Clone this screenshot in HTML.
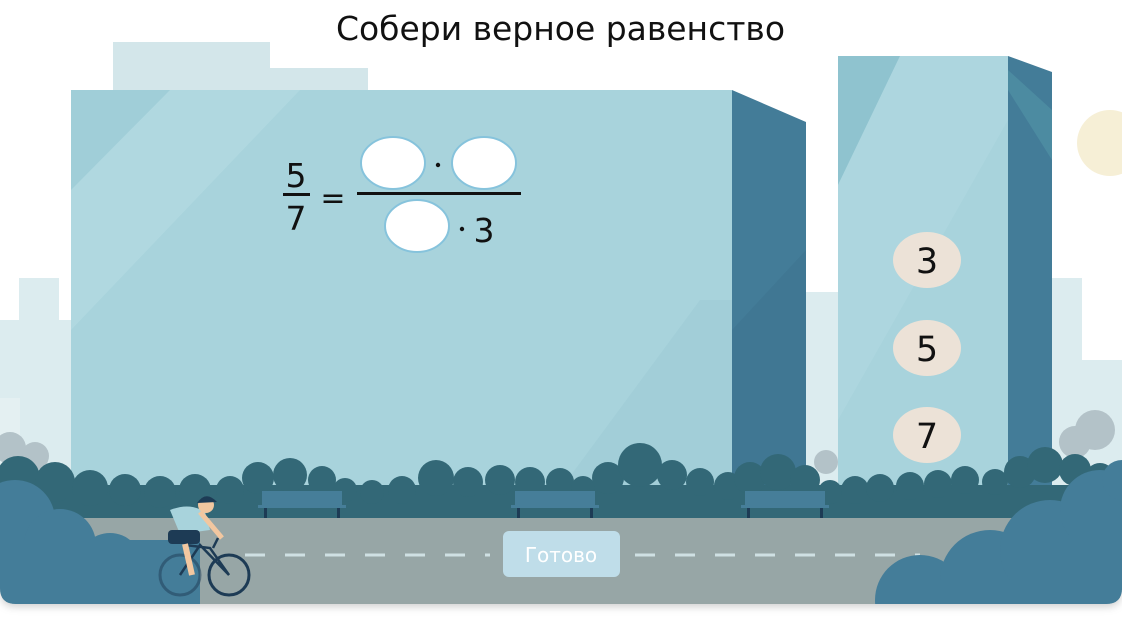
<!DOCTYPE html>
<html><head><meta charset="utf-8"><style>
html,body{margin:0;padding:0;background:#fff;width:1122px;height:634px;overflow:hidden}
svg{display:block}
text{font-family:"DejaVu Sans","Liberation Sans",sans-serif}
</style></head><body>
<svg width="1122" height="634" viewBox="0 0 1122 634" xmlns="http://www.w3.org/2000/svg">
<defs>
<clipPath id="card"><path d="M0 0 H1122 V588 Q1122 604 1106 604 H16 Q0 604 0 588 Z"/></clipPath>
<filter id="sh" x="-5%" y="-5%" width="110%" height="115%"><feDropShadow dx="0" dy="3" stdDeviation="4" flood-color="#000" flood-opacity="0.18"/></filter>
</defs>
<path d="M0 0 H1122 V588 Q1122 604 1106 604 H16 Q0 604 0 588 Z" fill="#fff" filter="url(#sh)"/>
<g clip-path="url(#card)">
<rect x="113" y="42" width="157" height="60" fill="#d3e6ea"/>
<rect x="270" y="68" width="98" height="40" fill="#d3e6ea"/>
<rect x="19" y="278" width="40" height="220" fill="#dcecef"/>
<rect x="0" y="320" width="72" height="180" fill="#dcecef"/>
<rect x="0" y="398" width="20" height="100" fill="#e4f0f2"/>
<rect x="806" y="292" width="32" height="200" fill="#dcecef"/>
<rect x="1052" y="278" width="30" height="220" fill="#dcecef"/>
<rect x="1080" y="360" width="42" height="140" fill="#dcecef"/>
<circle cx="1110" cy="143" r="33" fill="#f6efd6"/>
<rect x="71" y="90" width="661" height="400" fill="#a8d3dc"/>
<polygon points="71,90 300,90 71,330" fill="#b2d9e1" opacity="0.8"/>
<polygon points="71,90 170,90 71,190" fill="#9acad4" opacity="0.7"/>
<polygon points="700,300 732,300 732,490 560,490" fill="#9ecbd5" opacity="0.6"/>
<polygon points="732,90 806,122 806,490 732,490" fill="#437c98"/>
<polygon points="732,330 806,250 806,490 732,490" fill="#3f7590" opacity="0.6"/>
<rect x="838" y="56" width="170" height="440" fill="#a8d3dc"/>
<polygon points="838,56 900,56 838,185" fill="#8fc3cf"/>
<polygon points="900,56 1008,56 1008,120 838,420 838,185" fill="#b1d9e1" opacity="0.6"/>
<polygon points="1008,56 1052,72 1052,496 1008,496" fill="#437c98"/>
<polygon points="1008,90 1052,160 1052,110 1008,70" fill="#4c8ba1"/>
<ellipse cx="927" cy="260" rx="34" ry="28" fill="#ece2d7"/>
<ellipse cx="927" cy="348" rx="34" ry="28" fill="#ece2d7"/>
<ellipse cx="927" cy="435" rx="34" ry="28" fill="#ece2d7"/>
<text x="927" y="273" font-size="35" text-anchor="middle" fill="#111">3</text>
<text x="927" y="361" font-size="35" text-anchor="middle" fill="#111">5</text>
<text x="927" y="448" font-size="35" text-anchor="middle" fill="#111">7</text>
<g fill="#b3c2c8">
<circle cx="10" cy="448" r="16"/><circle cx="35" cy="456" r="14"/>
<circle cx="826" cy="462" r="12"/><circle cx="1095" cy="430" r="20"/><circle cx="1075" cy="442" r="16"/>
</g>
<g fill="#336877">
<rect x="0" y="485" width="1122" height="40"/>
<circle cx="18" cy="478" r="22"/><circle cx="55" cy="482" r="20"/><circle cx="90" cy="488" r="18"/>
<circle cx="125" cy="490" r="16"/><circle cx="160" cy="492" r="16"/><circle cx="195" cy="490" r="16"/>
<circle cx="230" cy="490" r="14"/><circle cx="258" cy="478" r="16"/><circle cx="290" cy="475" r="17"/>
<circle cx="322" cy="480" r="14"/><circle cx="345" cy="490" r="12"/><circle cx="372" cy="492" r="12"/>
<circle cx="402" cy="490" r="14"/><circle cx="436" cy="478" r="18"/><circle cx="468" cy="482" r="15"/>
<circle cx="500" cy="480" r="15"/><circle cx="530" cy="482" r="15"/><circle cx="560" cy="482" r="14"/>
<circle cx="583" cy="488" r="12"/><circle cx="608" cy="478" r="16"/><circle cx="640" cy="465" r="22"/>
<circle cx="672" cy="475" r="15"/><circle cx="700" cy="482" r="14"/><circle cx="728" cy="486" r="14"/>
<circle cx="750" cy="478" r="16"/><circle cx="778" cy="472" r="18"/><circle cx="805" cy="480" r="15"/>
<circle cx="830" cy="492" r="12"/><circle cx="855" cy="490" r="14"/><circle cx="880" cy="488" r="14"/>
<circle cx="910" cy="486" r="14"/><circle cx="938" cy="484" r="14"/><circle cx="965" cy="480" r="14"/>
<circle cx="995" cy="482" r="13"/><circle cx="1020" cy="472" r="16"/><circle cx="1045" cy="465" r="18"/>
<circle cx="1075" cy="470" r="16"/><circle cx="1100" cy="478" r="15"/>
</g>
<g fill="#467e99">
<rect x="262" y="491" width="80" height="14"/><rect x="258" y="505" width="88" height="3"/>
<rect x="515" y="491" width="80" height="14"/><rect x="511" y="505" width="88" height="3"/>
<rect x="745" y="491" width="80" height="14"/><rect x="741" y="505" width="88" height="3"/>
</g>
<g fill="#1d3b55">
<rect x="264" y="508" width="3" height="10"/><rect x="337" y="508" width="3" height="10"/>
<rect x="517" y="508" width="3" height="10"/><rect x="590" y="508" width="3" height="10"/>
<rect x="747" y="508" width="3" height="10"/><rect x="820" y="508" width="3" height="10"/>
</g>
<rect x="0" y="518" width="1122" height="90" fill="#97a6a6"/>
<g stroke="#cfe0e3" stroke-width="3">
<line x1="245" y1="555" x2="490" y2="555" stroke-dasharray="20 20"/>
<line x1="635" y1="555" x2="920" y2="555" stroke-dasharray="20 20"/>
</g>
<rect x="503" y="531" width="117" height="46" rx="6" fill="#bfdde9"/>
<text x="561" y="562" font-size="20" text-anchor="middle" fill="#fff">Готово</text>
<g fill="#447d99">
<circle cx="15" cy="520" r="40"/><circle cx="60" cy="545" r="36"/><circle cx="110" cy="565" r="32"/>
<circle cx="160" cy="580" r="30"/><rect x="0" y="540" width="200" height="70"/>
<circle cx="920" cy="600" r="45"/><circle cx="990" cy="580" r="50"/><circle cx="1050" cy="550" r="50"/>
<circle cx="1100" cy="510" r="40"/><circle cx="1122" cy="480" r="20"/><rect x="900" y="580" width="222" height="30"/>
<rect x="1070" y="500" width="52" height="90"/>
</g>
<g>
<circle cx="229" cy="575" r="20" fill="none" stroke="#1d3b55" stroke-width="3"/>
<circle cx="180" cy="575" r="20" fill="none" stroke="#1d3b55" stroke-width="3" opacity="0.5"/>
<polyline points="180,575 200,545 229,575 210,548 185,545" fill="none" stroke="#1d3b55" stroke-width="2.5"/>
<line x1="213" y1="548" x2="218" y2="538" stroke="#1d3b55" stroke-width="2.5"/>
<path d="M170 510 Q190 502 205 512 L210 530 L180 534 Z" fill="#a8d3dc"/>
<rect x="168" y="530" width="32" height="14" rx="4" fill="#1d3b55"/>
<path d="M200 512 L222 538" stroke="#f2c7a0" stroke-width="5"/>
<path d="M185 544 L192 575" stroke="#f2c7a0" stroke-width="6"/>
<circle cx="206" cy="505" r="8" fill="#f2c7a0"/>
<path d="M197 503 Q206 490 217 502 Z" fill="#1d3b55"/>
</g>
<text x="296" y="187" font-size="33" text-anchor="middle" fill="#111">5</text>
<rect x="283" y="193" width="27" height="3" fill="#111"/>
<text x="296" y="230" font-size="33" text-anchor="middle" fill="#111">7</text>
<text x="333" y="208" font-size="30" text-anchor="middle" fill="#111">=</text>
<ellipse cx="393" cy="163" rx="32" ry="26" fill="#fff" stroke="#86c3dc" stroke-width="2"/>
<circle cx="438" cy="165" r="2.2" fill="#111"/>
<ellipse cx="484" cy="163" rx="32" ry="26" fill="#fff" stroke="#86c3dc" stroke-width="2"/>
<rect x="357" y="192" width="164" height="3" fill="#111"/>
<ellipse cx="417" cy="226" rx="32" ry="26" fill="#fff" stroke="#86c3dc" stroke-width="2"/>
<circle cx="462" cy="229" r="2.2" fill="#111"/>
<text x="484" y="242" font-size="33" text-anchor="middle" fill="#111">3</text>
</g>
<text x="336" y="40" font-size="33" textLength="449" lengthAdjust="spacingAndGlyphs" fill="#111">Собери верное равенство</text>
</svg>
</body></html>
